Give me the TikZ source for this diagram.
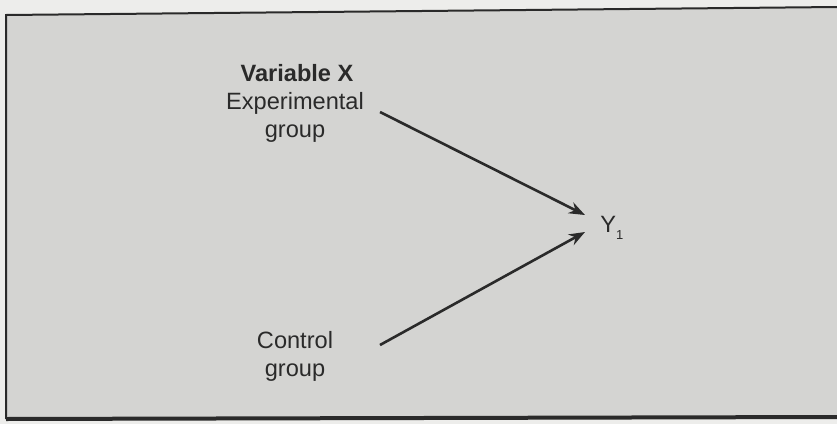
\documentclass[tikz,border=0pt]{standalone}
\usepackage{fontspec}
\setmainfont{Liberation Sans}
\usetikzlibrary{arrows.meta}

\definecolor{paper}{HTML}{EDEDEB}
\definecolor{panel}{HTML}{D4D4D2}
\definecolor{ink}{HTML}{2A2A2A}

\begin{document}
\begin{tikzpicture}[
  x=0.5pt,y=-0.5pt,
  lbl/.style={align=center,text=ink,inner sep=0pt,font=\fontsize{11.8}{14}\selectfont},
  flow/.style={-{Stealth[length=8pt,width=6pt]},line width=1.3pt,draw=ink}
]
  \fill[paper] (0,0) rectangle (837,424);
  \useasboundingbox (0,0) rectangle (837,424);
  % grey panel
  \fill[panel] (6,15) -- (837,7) -- (837,417) -- (6,419) -- cycle;
  \draw[ink,line width=1pt] (837,7) -- (6,15) -- (6,419);
  \draw[ink,line width=2pt] (6,419) -- (837,417);

  % base of a two-line node = baseline of its last line
  \node[lbl,anchor=base] (xvar) at (297,81) {\textbf{Variable X}};
  \node[lbl,anchor=base] (expg) at (295,137) {Experimental\\group};
  \node[lbl,anchor=base] (ctlg) at (295,376) {Control\\group};
  \node[lbl,anchor=base west] (y1) at (600,232) {Y\raisebox{-0.6ex}{\fontsize{6.5}{7}\selectfont 1}};

  \coordinate (expout) at (380,112);
  \coordinate (ctlout) at (380,345);
  \coordinate (inA) at (585,215);
  \coordinate (inB) at (585,232);

  \draw[flow] (expout) -- (inA);
  \draw[flow] (ctlout) -- (inB);
\end{tikzpicture}
\end{document}
